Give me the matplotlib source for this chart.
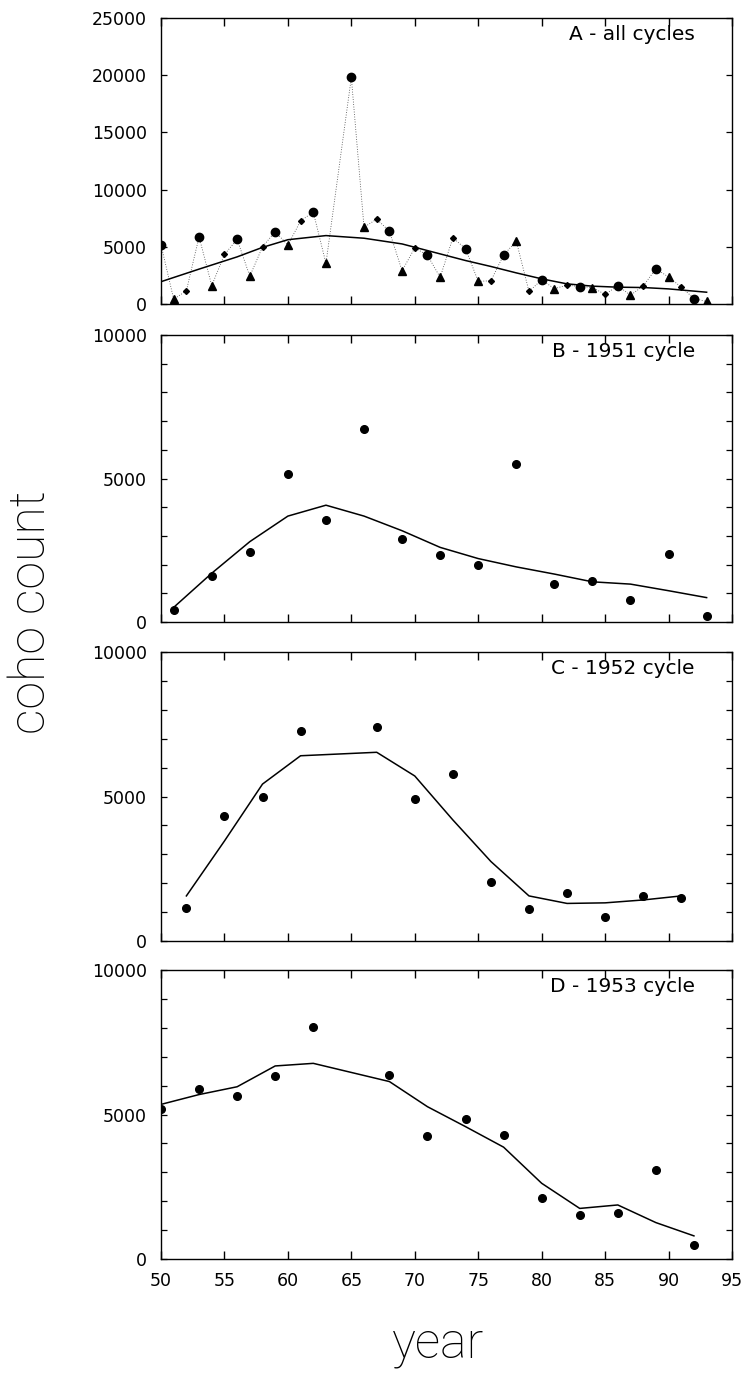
"""Coho counts by brood cycle: all cycles combined, then the 1951, 1952 and 1953 cycles."""

import matplotlib.pyplot as plt
from matplotlib.ticker import MultipleLocator

# 1951 cycle (every third year from 1951)
YEARS_1951 = [51, 54, 57, 60, 63, 66, 69, 72, 75, 78, 81, 84, 87, 90, 93]
COUNTS_1951 = [420, 1600, 2430, 5150, 3550, 6710, 2900, 2330, 1980, 5500,
               1340, 1440, 770, 2360, 220]
SMOOTH_1951 = [510, 1700, 2800, 3690, 4070, 3690, 3180, 2600, 2210, 1920,
               1670, 1400, 1320, 1090, 850]

# 1952 cycle (no count for 1964)
YEARS_1952 = [52, 55, 58, 61, 67, 70, 73, 76, 79, 82, 85, 88, 91]
COUNTS_1952 = [1150, 4330, 5000, 7260, 7420, 4910, 5780, 2030, 1100, 1650,
               840, 1570, 1480]
SMOOTH_1952 = [1560, 3460, 5430, 6410, 6530, 5710, 4190, 2750, 1560, 1300,
               1320, 1420, 1560]

# 1953 cycle; the 1965 count is shown only in the combined panel
YEARS_1953 = [50, 53, 56, 59, 62, 68, 71, 74, 77, 80, 83, 86, 89, 92]
COUNTS_1953 = [5190, 5880, 5650, 6320, 8040, 6360, 4260, 4840, 4280, 2110,
               1520, 1600, 3080, 480]
SMOOTH_1953 = [5350, 5690, 5960, 6680, 6770, 6140, 5270, 4580, 3870, 2620,
               1750, 1870, 1260, 800]
OUTLIER_YEAR = 65
OUTLIER_COUNT = 19800

# smoothed trend through all cycles together
SMOOTH_ALL_YEARS = [50, 53, 56, 58, 60, 63, 66, 69, 72, 74, 76, 78, 80, 82,
                    84, 86, 88, 90, 93]
SMOOTH_ALL = [1950, 3050, 4120, 4950, 5620, 5980, 5750, 5250, 4380, 3800,
              3280, 2720, 2200, 1760, 1560, 1470, 1440, 1320, 1030]

X_TICKS = [50, 55, 60, 65, 70, 75, 80, 85, 90, 95]

TICK_FONT = {"family": "DejaVu Sans", "size": 12.5}
TITLE_FONT = {"family": "DejaVu Sans", "size": 14.5}
LABEL_FONT = {"family": ["Roboto", "DejaVu Sans"], "weight": "light", "size": 36}

W, H = 743, 1373
LEFT, RIGHT = 161, 732
# (top, bottom) pixel rows of each panel
PANEL_ROWS = [(18, 304), (335, 622), (652, 941), (970, 1259)]


def style_axis(ax, ymax, ymajor, yminor, show_x):
    ax.set_xlim(50, 95)
    ax.set_ylim(0, ymax)
    ax.set_xticks(X_TICKS)
    ax.yaxis.set_major_locator(MultipleLocator(ymajor))
    if yminor:
        ax.yaxis.set_minor_locator(MultipleLocator(yminor))
    ax.tick_params(axis="x", which="major", direction="in", length=6,
                   width=1.0, top=True, bottom=True, pad=9,
                   labelbottom=show_x)
    ax.tick_params(axis="y", which="both", direction="in", length=4,
                   width=0.9, left=True, right=True, pad=10)
    for lab in ax.get_xticklabels() + ax.get_yticklabels():
        lab.set_fontfamily(TICK_FONT["family"])
        lab.set_fontsize(TICK_FONT["size"])
    for spine in ax.spines.values():
        spine.set_linewidth(1.0)


def add_title(ax, text):
    ax.text(0.935, 0.975, text, transform=ax.transAxes, ha="right", va="top",
            **TITLE_FONT)


def main():
    fig = plt.figure(figsize=(W / 100, H / 100), dpi=100)
    axes = []
    for top, bottom in PANEL_ROWS:
        rect = [LEFT / W, 1 - bottom / H, (RIGHT - LEFT) / W, (bottom - top) / H]
        axes.append(fig.add_axes(rect))
    ax_a, ax_b, ax_c, ax_d = axes

    # panel A: every year in order, joined by a dotted line
    points = sorted(
        list(zip(YEARS_1951, COUNTS_1951))
        + list(zip(YEARS_1952, COUNTS_1952))
        + list(zip(YEARS_1953, COUNTS_1953))
        + [(OUTLIER_YEAR, OUTLIER_COUNT)]
    )
    ax_a.plot([p[0] for p in points], [p[1] for p in points], color="#444444",
              linestyle=(0, (1, 2)), linewidth=0.6, zorder=1)
    ax_a.plot(SMOOTH_ALL_YEARS, SMOOTH_ALL, color="black", linewidth=1.1,
              zorder=2)
    ax_a.plot(YEARS_1951, COUNTS_1951, "^", color="black", markersize=6,
              zorder=3)
    ax_a.plot(YEARS_1952, COUNTS_1952, "D", color="black", markersize=3,
              zorder=3)
    ax_a.plot(YEARS_1953 + [OUTLIER_YEAR], COUNTS_1953 + [OUTLIER_COUNT], "o",
              color="black", markersize=6, zorder=3)
    style_axis(ax_a, 25000, 5000, None, False)
    add_title(ax_a, "A - all cycles")

    cycles = [
        (ax_b, YEARS_1951, COUNTS_1951, SMOOTH_1951, "B - 1951 cycle"),
        (ax_c, YEARS_1952, COUNTS_1952, SMOOTH_1952, "C - 1952 cycle"),
        (ax_d, YEARS_1953, COUNTS_1953, SMOOTH_1953, "D - 1953 cycle"),
    ]
    for ax, years, counts, smooth, title in cycles:
        ax.plot(years, smooth, color="black", linewidth=1.1, zorder=2)
        ax.plot(years, counts, "o", color="black", markersize=5.5, zorder=3)
        style_axis(ax, 10000, 5000, 1000, ax is ax_d)
        add_title(ax, title)

    fig.text(31 / W, 1 - 612 / H, "coho count", rotation=90, ha="center",
             va="center", **LABEL_FONT)
    fig.text(438 / W, 1 - 1358 / H, "year", ha="center", va="baseline",
             **LABEL_FONT)

    fig.savefig("out.png", dpi=100)
    plt.close(fig)


if __name__ == "__main__":
    main()
